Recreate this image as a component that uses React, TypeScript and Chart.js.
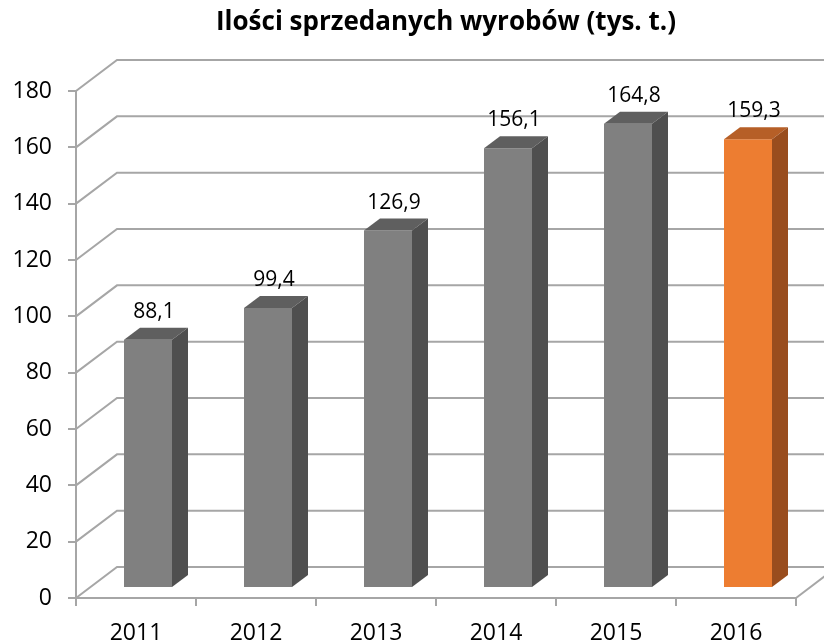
import React, { useEffect, useRef } from "react";
import { Chart, registerables } from "chart.js";

Chart.register(...registerables);

const categories = ["2011", "2012", "2013", "2014", "2015", "2016"];
const values = [88.1, 99.4, 126.9, 156.1, 164.8, 159.3];
const yMin = 0;
const yMax = 180;
const yStep = 20;
const titleText = "Ilości sprzedanych wyrobów (tys. t.)";

const frontColors = ["#808080", "#808080", "#808080", "#808080", "#808080", "#ED7D31"];
const topColors = ["#5f5f5f", "#5f5f5f", "#5f5f5f", "#5f5f5f", "#5f5f5f", "#b65f27"];
const sideColors = ["#4f4f4f", "#4f4f4f", "#4f4f4f", "#4f4f4f", "#4f4f4f", "#994d1e"];

const GRID = "#a6a6a6";
const FONT = '"Open Sans", "DejaVu Sans", sans-serif';
const WALL_DX = 41;
const WALL_DY = -31;
const BAR_DX = 12;
const BAR_DY = -10;
const DEPTH_DX = 16;
const DEPTH_DY = -12;

const threeD = {
  id: "threeD",
  beforeDatasetsDraw(chart: any) {
    const { ctx, chartArea, scales } = chart;
    const { left, right, bottom } = chartArea;
    const y = scales.y;
    ctx.save();
    ctx.strokeStyle = GRID;
    ctx.lineWidth = 2;
    y.ticks.forEach((t: any) => {
      const py = y.getPixelForValue(t.value);
      ctx.beginPath();
      ctx.moveTo(left, py);
      ctx.lineTo(left + WALL_DX, py + WALL_DY);
      ctx.lineTo(right + WALL_DX + 60, py + WALL_DY);
      ctx.stroke();
    });
    ctx.beginPath();
    ctx.moveTo(right, bottom);
    ctx.lineTo(right + WALL_DX, bottom + WALL_DY);
    ctx.stroke();
    ctx.restore();
    ctx.save();
    ctx.translate(BAR_DX, BAR_DY);
  },
  afterDatasetsDraw(chart: any) {
    const { ctx } = chart;
    const meta = chart.getDatasetMeta(0);
    meta.data.forEach((bar: any, i: number) => {
      const { x, y, base, width } = bar.getProps(["x", "y", "base", "width"], true);
      const l = x - width / 2;
      const r = x + width / 2;
      ctx.fillStyle = topColors[i];
      ctx.beginPath();
      ctx.moveTo(l, y);
      ctx.lineTo(l + DEPTH_DX, y + DEPTH_DY);
      ctx.lineTo(r + DEPTH_DX, y + DEPTH_DY);
      ctx.lineTo(r, y);
      ctx.closePath();
      ctx.fill();
      ctx.fillStyle = sideColors[i];
      ctx.beginPath();
      ctx.moveTo(r, y);
      ctx.lineTo(r + DEPTH_DX, y + DEPTH_DY);
      ctx.lineTo(r + DEPTH_DX, base + DEPTH_DY);
      ctx.lineTo(r, base);
      ctx.closePath();
      ctx.fill();
      ctx.fillStyle = "#000";
      ctx.font = `21px ${FONT}`;
      ctx.textAlign = "center";
      ctx.textBaseline = "middle";
      ctx.fillText(String(values[i]).replace(".", ","), x + 6, y - 28);
    });
    ctx.restore();
  },
  afterDraw(chart: any) {
    const { ctx } = chart;
    ctx.save();
    ctx.fillStyle = "#000";
    ctx.font = `bold 26px ${FONT}`;
    ctx.textAlign = "center";
    ctx.textBaseline = "middle";
    ctx.fillText(titleText, 446, 23);
    ctx.restore();
  },
};

export default function App() {
  const ref = useRef<HTMLCanvasElement | null>(null);
  useEffect(() => {
    document.body.style.margin = "0";
    const canvas = ref.current;
    if (!canvas) return;
    const chart = new Chart(canvas, {
      type: "bar",
      data: {
        labels: categories,
        datasets: [
          {
            data: values,
            backgroundColor: frontColors,
            borderWidth: 0,
            barPercentage: 0.4,
            categoryPercentage: 1,
            clip: false as any,
          },
        ],
      },
      options: {
        responsive: false,
        animation: false,
        devicePixelRatio: 1,
        layout: { padding: { top: 91, right: 28, bottom: 0, left: 0 } },
        plugins: {
          legend: { display: false },
          title: { display: false },
          tooltip: { enabled: false },
        },
        scales: {
          x: {
            afterFit: (s: any) => {
              s.height = 45;
            },
            grid: {
              display: true,
              drawOnChartArea: false,
              drawTicks: true,
              tickLength: 8,
              color: GRID,
              lineWidth: 2,
              offset: true,
            },
            border: { display: true, color: GRID, width: 2 },
            ticks: {
              color: "#000",
              font: { family: FONT, size: 23 },
              padding: 14,
              maxRotation: 0,
            },
          },
          y: {
            min: yMin,
            max: yMax,
            afterFit: (s: any) => {
              s.width = 76;
            },
            grid: {
              display: true,
              drawOnChartArea: false,
              drawTicks: true,
              tickLength: 8,
              color: GRID,
              lineWidth: 2,
            },
            border: { display: true, color: GRID, width: 2 },
            ticks: {
              stepSize: yStep,
              color: "#000",
              font: { family: FONT, size: 23 },
              padding: 16,
            },
          },
        },
      },
      plugins: [threeD],
    });
    return () => chart.destroy();
  }, []);
  return <canvas ref={ref} width={824} height={643} style={{ display: "block" }} />;
}
